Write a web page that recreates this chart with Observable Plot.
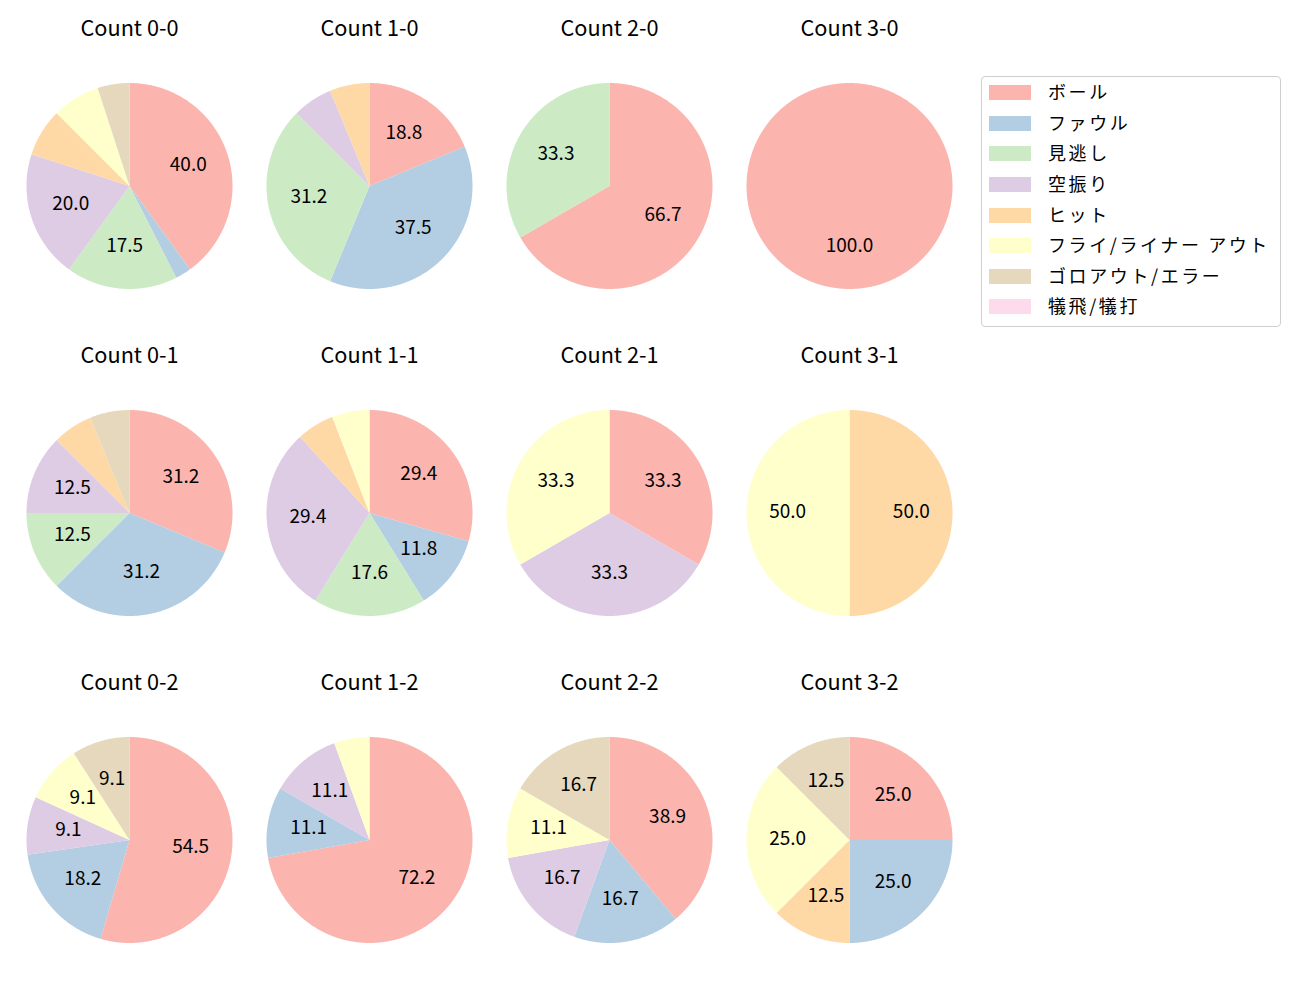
<!DOCTYPE html>
<html>
<head>
<meta charset="utf-8">
<script src="https://cdn.jsdelivr.net/npm/d3@7"></script>
<script src="https://cdn.jsdelivr.net/npm/@observablehq/plot@0.6"></script>
<style>
  body { margin: 0; background: #fff; font-family: "Noto Sans CJK JP", "Noto Sans", sans-serif; }
  #wrap { position: relative; width: 1300px; height: 1000px; overflow: hidden; }
  .cell { position: absolute; width: 240px; height: 327px; }
  .cell svg { overflow: visible; }
  #legend {
    position: absolute; left: 981px; top: 76px; width: 300px; height: 251px;
    box-sizing: border-box; border: 1px solid #cfcfcf; border-radius: 4px;
    padding-top: 0.5px; background: #fff;
  }
  .row { height: 30.6px; display: flex; align-items: center; }
  .sw { width: 42px; height: 15px; margin-left: 7px; flex: none; }
  .lb { margin-left: 17px; font-size: 18px; color: #000; white-space: nowrap; letter-spacing: 2.6px; position: relative; top: -1.5px; }
</style>
</head>
<body>
<div id="wrap"><div id="legend"></div></div>
<script>
// ---- data ----
const categories = ["ボール", "ファウル", "見逃し", "空振り", "ヒット", "フライ/ライナー アウト", "ゴロアウト/エラー", "犠飛/犠打"];
const colors = ["#fbb4ae", "#b3cde3", "#ccebc5", "#decbe4", "#fed9a6", "#ffffcc", "#e5d8bd", "#fddaec"];
const panelTitles = ["Count 0-0", "Count 1-0", "Count 2-0", "Count 3-0",
                     "Count 0-1", "Count 1-1", "Count 2-1", "Count 3-1",
                     "Count 0-2", "Count 1-2", "Count 2-2", "Count 3-2"];
// pitch counts per category (same order as categories)
const count00 = [16, 1, 7, 8, 3, 3, 2, 0];
const count10 = [3, 6, 5, 1, 1, 0, 0, 0];
const count20 = [2, 0, 1, 0, 0, 0, 0, 0];
const count30 = [1, 0, 0, 0, 0, 0, 0, 0];
const count01 = [5, 5, 2, 2, 1, 0, 1, 0];
const count11 = [5, 2, 3, 5, 1, 1, 0, 0];
const count21 = [1, 0, 0, 1, 0, 1, 0, 0];
const count31 = [0, 0, 0, 0, 1, 1, 0, 0];
const count02 = [6, 2, 0, 1, 0, 1, 1, 0];
const count12 = [13, 2, 0, 2, 0, 1, 0, 0];
const count22 = [7, 3, 0, 3, 0, 2, 3, 0];
const count32 = [2, 2, 0, 0, 1, 2, 1, 0];
const panelCounts = [count00, count10, count20, count30,
                     count01, count11, count21, count31,
                     count02, count12, count22, count32];
const labelMinPct = 8;

// ---- helpers ----
function fmtPct(p) { // python-style %1.1f (round half to even)
  const v = p * 10;
  let r = Math.round(v);
  if (Math.abs(v - Math.floor(v) - 0.5) < 1e-9) { const f = Math.floor(v); r = (f % 2 === 0) ? f : f + 1; }
  return (r / 10).toFixed(1);
}

const R = 103; // pie radius in px
const wrap = document.getElementById("wrap");

panelCounts.forEach((counts, i) => {
  const total = d3.sum(counts);
  const pts = [];
  const labels = [];
  let cum = 0;
  counts.forEach((c, k) => {
    if (c <= 0) return;
    const a0 = 2 * Math.PI * cum / total;
    const a1 = 2 * Math.PI * (cum + c) / total;
    cum += c;
    const cat = categories[k];
    if (c < total) pts.push({cat, x: 0, y: 0});
    const n = Math.max(2, Math.ceil((a1 - a0) / (Math.PI / 360)));
    for (let j = 0; j <= n; j++) {
      const a = a0 + (a1 - a0) * j / n;
      pts.push({cat, x: Math.sin(a), y: Math.cos(a)});
    }
    const pct = 100 * c / total;
    if (pct >= labelMinPct) {
      const am = (a0 + a1) / 2;
      labels.push({x: 0.6 * Math.sin(am), y: 0.6 * Math.cos(am), text: fmtPct(pct)});
    }
  });

  const chart = Plot.plot({
    width: 240, height: 327, margin: 0,
    x: {domain: [-120 / R, 120 / R], axis: null},
    y: {domain: [-163.5 / R, 163.5 / R], axis: null},
    color: {domain: categories, range: colors},
    style: {fontFamily: '"Noto Sans CJK JP", "Noto Sans", sans-serif', background: "transparent", overflow: "visible"},
    marks: [
      Plot.line(pts, {x: "x", y: "y", z: "cat", fill: "cat", stroke: "none", curve: "linear-closed"}),
      Plot.text(labels, {x: "x", y: "y", text: "text", fontSize: 19, dy: -1.5, fill: "#000"}),
      Plot.text([panelTitles[i]], {frameAnchor: "top", dy: 6.5, lineAnchor: "middle", fontSize: 21.7, fill: "#000"})
    ]
  });
  const cell = document.createElement("div");
  cell.className = "cell";
  cell.style.left = (9.3 + 240 * (i % 4)) + "px";
  cell.style.top = (21.5 + 327 * Math.floor(i / 4)) + "px";
  cell.appendChild(chart);
  wrap.appendChild(cell);
});

// legend
const legend = document.getElementById("legend");
categories.forEach((c, k) => {
  const row = document.createElement("div");
  row.className = "row";
  const sw = document.createElement("div");
  sw.className = "sw";
  sw.style.background = colors[k];
  const lb = document.createElement("div");
  lb.className = "lb";
  lb.textContent = c;
  row.appendChild(sw); row.appendChild(lb);
  legend.appendChild(row);
});
</script>
</body>
</html>
